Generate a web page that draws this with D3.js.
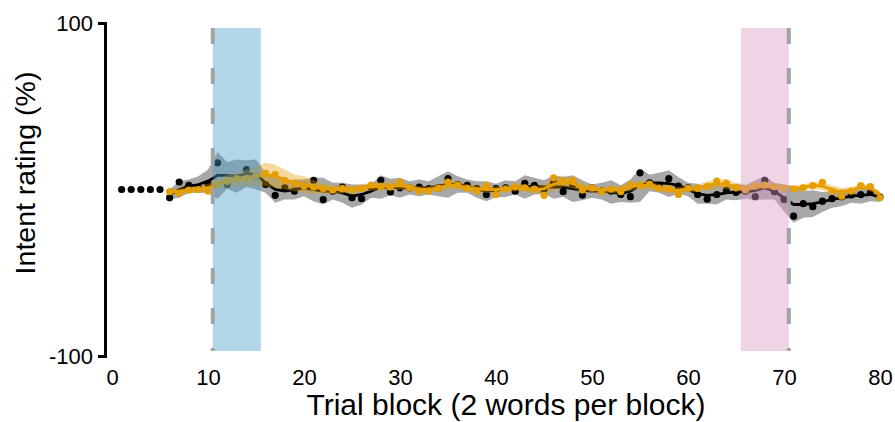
<!DOCTYPE html>
<html>
<head>
<meta charset="utf-8">
<script src="https://cdn.jsdelivr.net/npm/d3@7"></script>
<style>
  html, body { margin: 0; padding: 0; background: #fff; }
  svg { display: block; font-family: "Liberation Sans", Arial, sans-serif; }
</style>
</head>
<body>
<svg id="chart" width="895" height="422"></svg>
<script>
// ---- data ----
const baselineBlocks = [1, 2, 3, 4, 5];
const baselineValues = [0, 0, 0, 0, 0];

const blocks = d3.range(6, 81); // trial blocks 6..80

const blackPoints = [-5, 4.5, 2.5, 1, 3.5, 16, 3, 7, 12, 8,
  3, -3.5, 1, -1, 2, 5.5, -6, -1, 1.5, -5,
  -5.5, 1.5, 5.5, -1.5, 1, 1, 1.5, 0.5, 1, 6.5,
  3, 2.5, 0.5, -3, 0.5, 1, -1, 3.7, 2.5, 0,
  4, -1.3, 3, -3.3, 1, -1, -1, -3, -4.3, 10,
  4, 2, 6.5, 2, 1, -3, -5.8, -3, -0.5, -1.7,
  -1, -4.3, 5.5, -1.3, -6, -16, -8.5, -10.3, -7, -5.5,
  -4.3, -3.3, -3, -1.5, -4.5];

const blackMean = [-3, 0, 2, 3, 5, 8.5, 8.5, 8, 9.5, 9,
  4, 0, -1, 0, 1, 0, -1, -1, -2, -4,
  -3, -1, 1.5, 1.5, 1, 1, 1, 1, 2, 3,
  3, 2, 0, -1, -0.5, 0.5, 1, 1.5, 2, 1.5,
  1.5, 1.5, 0.5, -0.5, -1, -1, -1.5, -2.5, -1, 2.5,
  4, 4, 3.5, 2.5, 0, -2.5, -3.5, -3, -2, -1.5,
  -1.5, -0.5, 1, -1, -5, -9, -9, -8.5, -7.5, -6,
  -5, -4, -3.5, -3, -4.5];

const blackSpread = [3, 5, 4, 5, 7, 14, 8, 10, 8, 9,
  6, 8, 5, 6, 5, 7, 8, 5, 6, 7,
  6, 4, 7, 5, 6, 4, 5, 4, 6, 8,
  5, 4, 5, 6, 4, 5, 4, 7, 5, 4,
  7, 6, 8, 6, 4, 5, 7, 5, 7, 10,
  5, 6, 8, 5, 4, 6, 5, 6, 4, 5,
  4, 6, 7, 5, 8, 11, 8, 8, 6, 5,
  5, 4, 5, 4, 3];

const orangePoints = [-1.3, -2.3, -0.3, 0, -1, 3.5, 5, 6.5, 6.5, 8.2,
  9.7, 9, 5.5, 3.7, 2, 1.5, 0.5, -0.3, 0.5, -0.3,
  0.5, 2.7, 1.7, 1.5, 4.5, 1, -1, -1, 0.7, 4.5,
  2.7, 0.7, -1, 2.3, -3, 0.3, 1.7, 1, 0.3, -3.5,
  7, 4.7, 5.5, -0.3, 1, -1.3, 0.3, -1.3, 3, 2.3,
  3.3, 0.7, 0.5, -3, 0.7, 0.7, 1.7, 5, 3.7, 1,
  -0.3, 2.3, 2.7, 1.7, 0.7, 0.3, 1, 2.3, 4.3, -1,
  -4, -1, 2.3, 1.7, -5];

const orangeMean = [-1.5, -1, -0.5, 0, 1, 3, 5, 6, 7, 8,
  9, 8, 6, 4, 3, 1.5, 0.5, 0, 0.3, 0.3,
  1, 1.7, 2, 2.3, 2.3, 1.5, 0, 0, 1, 2.5,
  2.5, 1, 0.5, 0, 0, 0.3, 1, 1, -0.5, 0.5,
  3, 5, 3.5, 1.5, 0, 0, -0.5, 0.5, 1.5, 3,
  2, 1.2, -0.5, -0.5, 0, 1, 2.5, 3.5, 3.2, 1.5,
  1, 1.5, 2.2, 1.7, 1, 0.6, 1.2, 2.5, 2, 0,
  -1.5, -0.5, 1.5, 1, -3];

const orangeSpread = [2, 2, 2, 2, 2.5, 3, 4, 4, 5, 6,
  7, 7, 6, 5, 5, 4, 3, 2.5, 2.5, 2,
  2, 2.5, 2.5, 2.5, 2.5, 2, 2, 2, 2, 2.5,
  2.5, 2, 2, 2, 2, 2, 2, 2, 2, 3,
  4, 3.5, 3, 2.5, 2, 2, 2, 2, 2.5, 2.5,
  2.5, 2, 2, 2, 2, 2, 2.5, 3, 3, 2.5,
  2, 2, 2, 2, 2, 2, 2, 2, 2.5, 2.5,
  2.5, 2, 2, 2, 2];

const xTicks = [0, 10, 20, 30, 40, 50, 60, 70, 80];
const yTicks = [-100, 100];
const bands = [
  { from: 10.5, to: 15.5, color: "#4a9dcb", line: 10.5 },
  { from: 65.5, to: 70.5, color: "#d799bf", line: 70.5 }
];
const bandExtent = [-97, 97];

const xTitle = "Trial block (2 words per block)";
const yTitle = "Intent rating (%)";

// ---- layout ----
const svg = d3.select("#chart");
const x = d3.scaleLinear().domain([0, 80]).range([112, 880]);
const y = d3.scaleLinear().domain([-100, 100]).range([356, 23]);

const blackRows = blocks.map((b, i) => ({ b, v: blackPoints[i], m: blackMean[i], s: blackSpread[i] }));
const orangeRows = blocks.map((b, i) => ({ b, v: orangePoints[i], m: orangeMean[i], s: orangeSpread[i] }));

const area = d3.area().x(d => x(d.b)).y0(d => y(d.m - d.s)).y1(d => y(d.m + d.s));
const line = d3.line().x(d => x(d.b)).y(d => y(d.m));

const plot = svg.append("g");

// black series
plot.append("path").datum(blackRows).attr("d", area)
  .attr("fill", "#000").attr("fill-opacity", 0.34);
plot.append("path").datum(blackRows).attr("d", line)
  .attr("fill", "none").attr("stroke", "#000").attr("stroke-width", 2.8);
plot.selectAll("circle.bk").data(blackRows).join("circle").attr("class", "bk")
  .attr("cx", d => x(d.b)).attr("cy", d => y(d.v)).attr("r", 3.6).attr("fill", "#000");
plot.selectAll("circle.base").data(baselineBlocks).join("circle").attr("class", "base")
  .attr("cx", d => x(d)).attr("cy", (d, i) => y(baselineValues[i])).attr("r", 3.6).attr("fill", "#000");

// orange series
plot.append("path").datum(orangeRows).attr("d", area)
  .attr("fill", "#E69F00").attr("fill-opacity", 0.38);
plot.append("path").datum(orangeRows).attr("d", line)
  .attr("fill", "none").attr("stroke", "#E69F00").attr("stroke-width", 3);
plot.selectAll("circle.or").data(orangeRows).join("circle").attr("class", "or")
  .attr("cx", d => x(d.b)).attr("cy", d => y(d.v)).attr("r", 3.6).attr("fill", "#E69F00");

// shaded bands (drawn on top, translucent)
svg.selectAll("rect.band").data(bands).join("rect").attr("class", "band")
  .attr("x", d => x(d.from)).attr("width", d => x(d.to) - x(d.from))
  .attr("y", y(bandExtent[1])).attr("height", y(bandExtent[0]) - y(bandExtent[1]))
  .attr("fill", d => d.color).attr("fill-opacity", 0.42);

svg.selectAll("line.dash").data(bands).join("line").attr("class", "dash")
  .attr("x1", d => x(d.line)).attr("x2", d => x(d.line))
  .attr("y1", y(bandExtent[1])).attr("y2", y(bandExtent[0]))
  .attr("stroke", "#a3a3a3").attr("stroke-width", 4)
  .attr("stroke-dasharray", "16,24");

// y axis
const yAxis = svg.append("g").attr("transform", "translate(105,0)")
  .call(d3.axisLeft(y).tickValues(yTicks).tickFormat(d => String(d))
    .tickSizeInner(7).tickSizeOuter(7).tickPadding(5));
yAxis.select(".domain").attr("stroke-width", 3);
yAxis.selectAll(".tick line").attr("stroke-width", 3);
yAxis.selectAll(".tick text").attr("font-size", 22).attr("fill", "#000")
  .attr("font-family", "Liberation Sans, Arial, sans-serif");

// x axis (labels only)
const xAxis = svg.append("g").attr("transform", "translate(0,356)")
  .call(d3.axisBottom(x).tickValues(xTicks).tickFormat(d => String(d)).tickSize(0).tickPadding(13));
xAxis.select(".domain").remove();
xAxis.selectAll(".tick line").remove();
xAxis.selectAll(".tick text").attr("font-size", 22).attr("fill", "#000")
  .attr("font-family", "Liberation Sans, Arial, sans-serif");

// titles
svg.append("text").attr("x", 506).attr("y", 415).attr("text-anchor", "middle")
  .attr("font-size", 30).attr("fill", "#000").text(xTitle);
svg.append("text").attr("transform", "translate(35,173) rotate(-90)")
  .attr("text-anchor", "middle").attr("font-size", 28.5).attr("fill", "#000").text(yTitle);
</script>
</body>
</html>
